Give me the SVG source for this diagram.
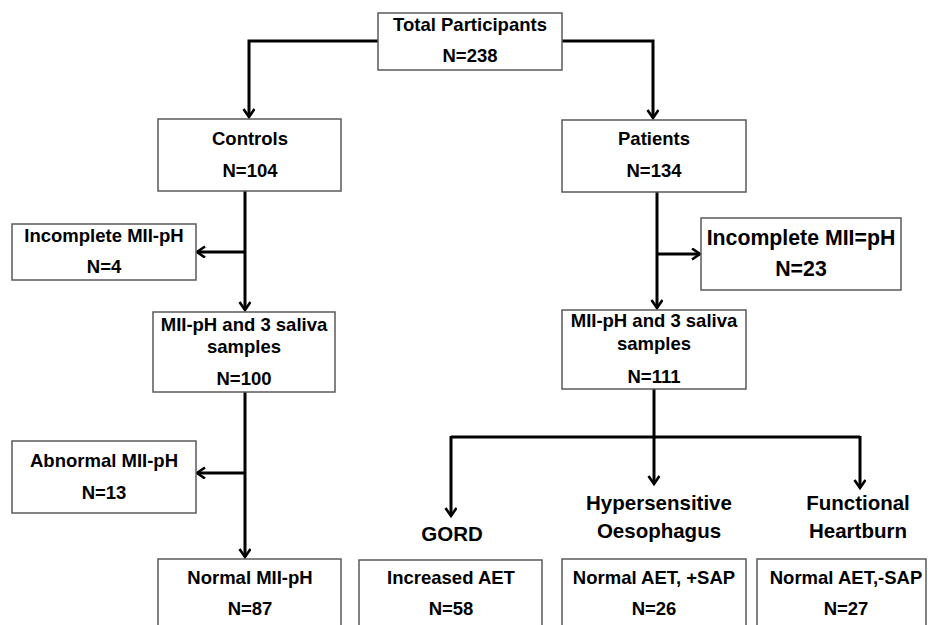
<svg xmlns="http://www.w3.org/2000/svg" width="928" height="625" viewBox="0 0 928 625">
<style>
.box{fill:#fff;stroke:#5a5a5a;stroke-width:1.5}
text{font-family:"Liberation Sans",Arial,sans-serif;font-weight:bold;font-size:18.5px;fill:#000;text-anchor:middle}
.big{font-size:20.5px}
.big2{font-size:21.3px}
.con path{fill:none;stroke:#000;stroke-width:3;marker-end:url(#arr)}
.con .plain{marker-end:none}
</style>
<defs>
<marker id="arr" markerUnits="userSpaceOnUse" markerWidth="14" markerHeight="14" refX="10" refY="6" orient="auto">
<path d="M2,0.5 L10,6 L2,11.5" fill="none" stroke="#000" stroke-width="2.6"/>
</marker>
</defs>
<rect width="928" height="625" fill="#fff"/>
<g class="con" id="connectors">
<path d="M378,41 H249 V117"/>
<path d="M562,41 H653 V118"/>
<path d="M245,191 V310"/>
<path d="M245,252 H197"/>
<path d="M657,192 V308"/>
<path d="M657,254 H700"/>
<path d="M245,392 V557"/>
<path d="M245,473 H197"/>
<path class="plain" d="M654,389 V437"/>
<path class="plain" d="M451,437 H860"/>
<path d="M451,436 V516"/>
<path d="M654,436 V484"/>
<path d="M860,436 V488"/>
</g>
<g id="total"><rect class="box" x="378" y="13" width="184" height="57"/><text x="470" y="31">Total Participants</text><text x="470" y="62">N=238</text></g>
<g id="controls"><rect class="box" x="158" y="119" width="183" height="72"/><text x="250" y="145">Controls</text><text x="250" y="177">N=104</text></g>
<g id="patients"><rect class="box" x="562" y="120" width="184" height="72"/><text x="654" y="145">Patients</text><text x="654" y="177">N=134</text></g>
<g id="incomplete-left"><rect class="box" x="12" y="224" width="184" height="56"/><text x="104" y="242">Incomplete MII-pH</text><text x="104" y="273">N=4</text></g>
<g id="incomplete-right"><rect class="box" x="701" y="218" width="200" height="72"/><text class="big2" x="801" y="245">Incomplete MII=pH</text><text class="big2" x="801" y="276">N=23</text></g>
<g id="mii-left"><rect class="box" x="153" y="312" width="182" height="80"/><text x="244" y="331">MII-pH and 3 saliva</text><text x="244" y="353">samples</text><text x="244" y="385">N=100</text></g>
<g id="mii-right"><rect class="box" x="562" y="310" width="184" height="79"/><text x="654" y="327">MII-pH and 3 saliva</text><text x="654" y="350">samples</text><text x="654" y="383">N=111</text></g>
<g id="abnormal"><rect class="box" x="12" y="441" width="184" height="72"/><text x="104" y="467">Abnormal MII-pH</text><text x="104" y="499">N=13</text></g>
<g id="normal"><rect class="box" x="158" y="559" width="183" height="80"/><text x="250" y="584">Normal MII-pH</text><text x="250" y="615">N=87</text></g>
<g id="gord"><text class="big" x="452" y="541">GORD</text><rect class="box" x="359" y="560" width="183" height="80"/><text x="451" y="584">Increased AET</text><text x="451" y="615">N=58</text></g>
<g id="hypersensitive"><text class="big" x="659" y="510">Hypersensitive</text><text class="big" x="659" y="538">Oesophagus</text><rect class="box" x="562" y="559" width="184" height="80"/><text x="654" y="584">Normal AET, +SAP</text><text x="654" y="615">N=26</text></g>
<g id="functional"><text class="big" x="858" y="510">Functional</text><text class="big" x="858" y="538">Heartburn</text><rect class="box" x="757" y="559" width="169" height="80"/><text x="846" y="584">Normal AET,-SAP</text><text x="846" y="615">N=27</text></g>
</svg>
